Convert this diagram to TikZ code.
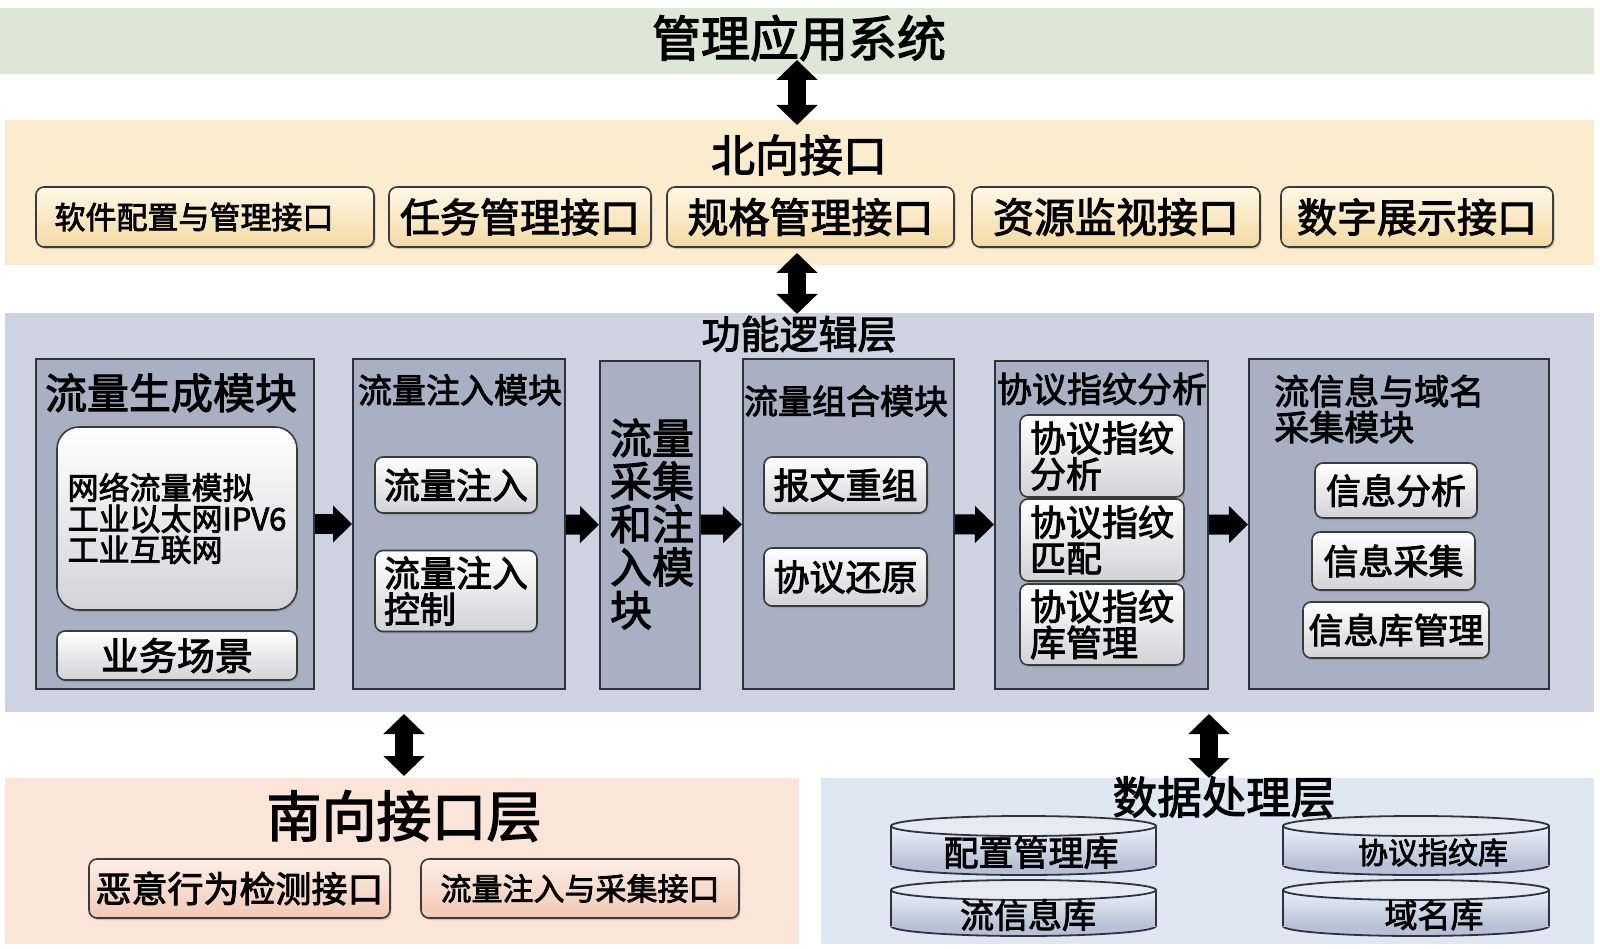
\documentclass[tikz,border=0pt]{standalone}
\usepackage{fontspec}
\setmainfont{Noto Sans CJK SC}[FakeBold=2.5]
\usetikzlibrary{arrows.meta,shadows}
\definecolor{gband}{HTML}{DCE8D5}
\definecolor{nband}{HTML}{FBECCE}
\definecolor{fband}{HTML}{CDD3E1}
\definecolor{sband}{HTML}{FBE4D8}
\definecolor{dband}{HTML}{DFE7F2}
\definecolor{modfill}{HTML}{A9B0C3}
\definecolor{modline}{HTML}{30333D}
\definecolor{boxline}{HTML}{3A3A3A}
\definecolor{boxbot}{HTML}{D3D3D6}
\definecolor{ntop}{HTML}{FFF8E6}
\definecolor{nbot}{HTML}{F4DAA2}
\definecolor{stop}{HTML}{FDEFE7}
\definecolor{sbot}{HTML}{F2C8B2}
\definecolor{cyltop}{HTML}{EEF1F8}
\definecolor{cylbot}{HTML}{B7C0D6}
\definecolor{cylface}{HTML}{E6EAF3}
\newcommand{\fsz}[1]{\fontsize{#1pt}{#1pt}\selectfont}
\newcommand{\dbcyl}[7]{%
  \pgfmathsetmacro\dbxl{#2-#4/2}%
  \pgfmathsetmacro\dbxr{#2+#4/2}%
  \pgfmathsetmacro\dbyt{#3-#5/2+10}%
  \pgfmathsetmacro\dbyb{#3+#5/2-10}%
  \filldraw[cylline, fill=cylbot] (#2,\dbyb) ellipse [x radius=#4/2, y radius=10];
  \fill[top color=cyltop, bottom color=cylbot] (\dbxl,\dbyt) rectangle (\dbxr,\dbyb);
  \draw[cylline] (\dbxl,\dbyt) -- (\dbxl,\dbyb) (\dbxr,\dbyt) -- (\dbxr,\dbyb);
  \filldraw[cylline, fill=cylface] (#2,\dbyt) ellipse [x radius=#4/2, y radius=10];
  \node[lbl] (#1) at (#6,#3+7) {#7};
}
\begin{document}
\begin{tikzpicture}[x=1pt,y=-1pt,
  band/.style={draw=none, inner sep=0pt, rectangle},
  module/.style={draw=modline, line width=2pt, fill=modfill, inner sep=0pt},
  ibox/.style={draw=boxline, line width=1.6pt, rounded corners=8pt, top color=white, bottom color=boxbot,
    drop shadow={shadow xshift=1.5pt, shadow yshift=-2pt, opacity=0.35}, inner sep=0pt, align=left},
  nbox/.style={ibox, top color=ntop, bottom color=nbot},
  sbox/.style={ibox, top color=stop, bottom color=sbot},
  lbl/.style={inner sep=0pt, align=left},
  cylline/.style={draw=modline, line width=1.8pt},
  blk/.style={-{Triangle[length=19pt,width=36pt]}, line width=20pt, black},
  dbl/.style={{Triangle[length=20pt,width=40pt]}-{Triangle[length=20pt,width=40pt]}, line width=18pt, black}
]
\useasboundingbox (0,0) rectangle (1600,949);
\fill[white] (0,0) rectangle (1600,949);

% ---- management application system
\node[band, fill=gband, minimum width=1594pt, minimum height=66pt] (gb) at (797,41) {};
\node[lbl, font=\fsz{49}] (gbt) at (799,38) {管理应用系统};

% ---- northbound interface
\node[band, fill=nband, minimum width=1589pt, minimum height=145pt] (nb) at (799.5,192.5) {};
\node[lbl, font=\fsz{44}] (nbt) at (799,155) {北向接口};
\node[nbox, minimum width=338pt, minimum height=60pt, font=\fsz{31}] (n1) at (205,217) {\hspace*{-22pt}软件配置与管理接口};
\node[nbox, minimum width=262pt, minimum height=60pt, font=\fsz{40}] (n2) at (520,217) {任务管理接口};
\node[nbox, minimum width=287pt, minimum height=60pt, font=\fsz{41}] (n3) at (810.5,217) {规格管理接口};
\node[nbox, minimum width=288pt, minimum height=60pt, font=\fsz{41}] (n4) at (1116,217) {资源监视接口};
\node[nbox, minimum width=272pt, minimum height=60pt, font=\fsz{40}] (n5) at (1417,217) {数字展示接口};

% ---- functional logic layer
\node[band, fill=fband, minimum width=1589pt, minimum height=399pt] (fb) at (799.5,512.5) {};
\node[lbl, font=\fsz{39}] (fbt) at (799,334) {功能逻辑层};

% module 1
\node[module, minimum width=278pt, minimum height=330pt] (m1) at (175,524) {};
\node[lbl, font=\fsz{42}] (m1t) at (171,393) {流量生成模块};
\node[ibox, rounded corners=22pt, minimum width=240pt, minimum height=183pt, font=\fsz{31}] (m1a) at (177,518.5)
  {网络流量模拟\\工业以太网IPV6\\工业互联网};
\node[ibox, minimum width=240pt, minimum height=49pt, font=\fsz{38}] (m1b) at (177,655.5) {业务场景};

% module 2
\node[module, minimum width=212pt, minimum height=330pt] (m2) at (459,524) {};
\node[lbl, font=\fsz{34}] (m2t) at (460,390) {流量注入模块};
\node[ibox, minimum width=162pt, minimum height=56pt, font=\fsz{36}] (m2a) at (456,485) {流量注入};
\node[ibox, minimum width=162pt, minimum height=81pt, font=\fsz{36}] (m2b) at (456,591) {流量注入\\控制};

% module 3
\node[module, minimum width=100pt, minimum height=328pt] (m3) at (650,525) {};
\node[lbl, font={\fontsize{42pt}{43pt}\selectfont}] (m3t) at (652,524) {流量\\采集\\和注\\入模\\块};

% module 4
\node[module, minimum width=211pt, minimum height=330pt] (m4) at (848.5,524) {};
\node[lbl, font=\fsz{34}] (m4t) at (846,401) {流量组合模块};
\node[ibox, minimum width=163pt, minimum height=56pt, font=\fsz{36}] (m4a) at (845.5,485) {报文重组};
\node[ibox, minimum width=163pt, minimum height=58pt, font=\fsz{36}] (m4b) at (845.5,577) {协议还原};

% module 5
\node[module, minimum width=213pt, minimum height=328pt] (m5) at (1101.5,525) {};
\node[lbl, font=\fsz{35}] (m5t) at (1102,389) {协议指纹分析};
\node[ibox, minimum width=164pt, minimum height=82pt, font=\fsz{36}] (m5a) at (1102,456) {协议指纹\\分析};
\node[ibox, minimum width=164pt, minimum height=82pt, font=\fsz{36}] (m5b) at (1102,540) {协议指纹\\匹配};
\node[ibox, minimum width=164pt, minimum height=81pt, font=\fsz{36}] (m5c) at (1102,624.5) {协议指纹\\库管理};

% module 6
\node[module, minimum width=300pt, minimum height=330pt] (m6) at (1399,524) {};
\node[lbl, anchor=west, font={\fontsize{35pt}{36pt}\selectfont}] (m6t) at (1274,409) {流信息与域名\\采集模块};
\node[ibox, minimum width=162pt, minimum height=55pt, font=\fsz{35}] (m6a) at (1396,490.5) {信息分析};
\node[ibox, minimum width=163pt, minimum height=58pt, font=\fsz{35}] (m6b) at (1393.5,561) {信息采集};
\node[ibox, minimum width=186pt, minimum height=56pt, font=\fsz{35}] (m6c) at (1396,630) {信息库管理};

% arrows between modules
\draw[blk] (m1) -- (m2);
\draw[blk] (m2) -- (m3);
\draw[blk] (m3) -- (m4);
\draw[blk] (m4) -- (m5);
\draw[blk] (m5) -- (m6);

% ---- southbound interface layer
\node[band, fill=sband, minimum width=794pt, minimum height=166pt] (sb) at (402,861) {};
\node[lbl, font=\fsz{55}] (sbt) at (404,816) {南向接口层};
\node[sbox, minimum width=301pt, minimum height=59pt, font=\fsz{36}] (s1) at (239.5,888.5) {恶意行为检测接口};
\node[sbox, minimum width=318pt, minimum height=59pt, font=\fsz{31}] (s2) at (580,888.5) {流量注入与采集接口};

% ---- data processing layer
\node[band, fill=dband, minimum width=773pt, minimum height=166pt] (db) at (1207.5,861) {};
\dbcyl{c1}{1023.5}{845.5}{265}{59}{1031}{\fsz{35}配置管理库}
\dbcyl{c2}{1023.5}{908}{265}{56}{1028}{\fsz{34}流信息库}
\dbcyl{c3}{1416}{845.5}{266}{59}{1433}{\fsz{30}协议指纹库}
\dbcyl{c4}{1416}{908}{266}{56}{1434}{\fsz{33}域名库}
\node[lbl, font={\fontsize{44.5pt}{45pt}\selectfont}] (dbt) at (1224,797) {数据处理层};

% ---- vertical double arrows
\coordinate (a1s) at (797,60);  \coordinate (a1e) at (797,125);
\coordinate (a2s) at (797,253); \coordinate (a2e) at (797,314);
\coordinate (a3s) at (404,714); \coordinate (a3e) at (404,776);
\coordinate (a4s) at (1209,714); \coordinate (a4e) at (1209,778);
\draw[dbl] (a1s) -- (a1e);
\draw[dbl] (a2s) -- (a2e);
\draw[dbl] (a3s) -- (a3e);
\draw[dbl] (a4s) -- (a4e);
\end{tikzpicture}
\end{document}
